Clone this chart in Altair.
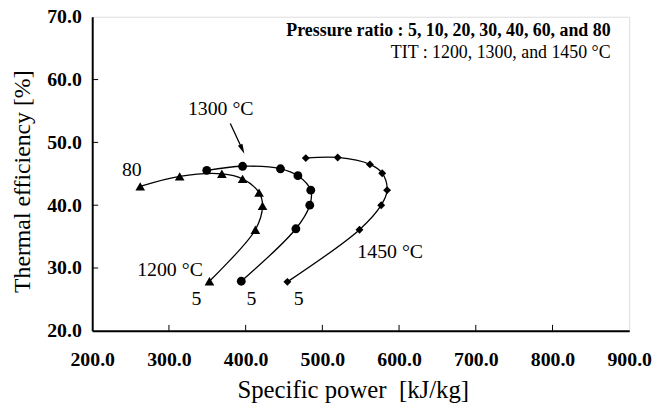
import altair as alt
import pandas as pd

# ---- data ----
x_1200 = [262.6, 314.0, 369.0, 396.0, 417.5, 422.0, 412.7, 352.8]
y_1200 = [43.0, 44.6, 45.0, 44.2, 42.0, 39.9, 36.1, 27.9]

x_1300 = [349.3, 396.0, 445.4, 468.1, 484.9, 483.6, 465.5, 394.3]
y_1300 = [45.55, 46.2, 45.8, 44.7, 42.4, 40.0, 36.25, 27.9]

x_1450 = [478.4, 520.0, 562.0, 578.0, 584.4, 576.7, 548.4, 454.4]
y_1450 = [47.5, 47.6, 46.5, 45.1, 42.4, 40.0, 36.1, 27.8]

x_ticks = [300, 400, 500, 600, 700, 800]
y_ticks = [30, 40, 50, 60]

ann_text = ["80", "1300 °C", "1200 °C", "1450 °C", "5", "5", "5"]
ann_x = [251.6, 367.5, 301.4, 588.4, 335.9, 407.7, 469.3]
ann_y = [44.6, 54.4, 28.8, 31.6, 24.1, 24.1, 24.1]

legend_text = ["Pressure ratio : 5, 10, 20, 30, 40, 60, and 80",
               "TIT : 1200, 1300, and 1450 °C"]
legend_x = [875.7, 875.7]
legend_y = [66.96, 63.42]

arrow_x = [380.0, 395.6]
arrow_y = [53.0, 48.9]

FONT = "Liberation Serif"
W, H = 542, 317

rows = []
for tit, xs_, ys_ in [("1200", x_1200, y_1200), ("1300", x_1300, y_1300), ("1450", x_1450, y_1450)]:
    for i, (a, b) in enumerate(zip(xs_, ys_)):
        rows.append({"tit": tit, "order": i, "sp": a, "eff": b})
df = pd.DataFrame(rows)

xs = alt.Scale(domain=[200, 900], nice=False, zero=False)
ys = alt.Scale(domain=[20, 70], nice=False, zero=False)

xaxis = alt.Axis(values=list(range(200, 901, 100)), format=".1f", title="Specific power\u00a0\u00a0[kJ/kg]",
                 grid=False, ticks=False, tickSize=0, labelFont=FONT, labelFontSize=20,
                 labelFontWeight="bold", labelColor="black", labelPadding=19, labelFlush=False,
                 labelOverlap=False,
                 domainColor="black", domainWidth=2,
                 titleFont=FONT, titleFontSize=25, titleFontWeight="normal", titleColor="black",
                 titleX=263, titleY=67, titleBaseline="alphabetic", titleAlign="center")
yaxis = alt.Axis(values=list(range(20, 71, 10)), format=".1f", title="Thermal efficiency [%]",
                 grid=False, ticks=False, tickSize=0, labelFont=FONT, labelFontSize=20,
                 labelFontWeight="bold", labelColor="black", labelPadding=11, labelFlush=False,
                 labelOverlap=False,
                 domainColor="black", domainWidth=2,
                 titleFont=FONT, titleFontSize=24, titleFontWeight="normal", titleColor="black",
                 titleX=-63, titleY=166, titleAngle=270, titleBaseline="alphabetic", titleAlign="center")

base = alt.Chart(df)
lines = base.mark_line(color="black", strokeWidth=1.3, interpolate="catmull-rom").encode(
    x=alt.X("sp:Q", scale=xs, axis=xaxis),
    y=alt.Y("eff:Q", scale=ys, axis=yaxis),
    detail="tit:N",
    order="order:Q",
)

shape_map = alt.Scale(domain=["1200", "1300", "1450"], range=["triangle-up", "circle", "diamond"])
size_map = alt.Scale(domain=["1200", "1300", "1450"], range=[95, 64, 100])
points = base.mark_point(filled=True, color="black", opacity=1).encode(
    x=alt.X("sp:Q", scale=xs),
    y=alt.Y("eff:Q", scale=ys),
    shape=alt.Shape("tit:N", scale=shape_map, legend=None),
    size=alt.Size("tit:N", scale=size_map, legend=None),
)

xt = alt.Chart(pd.DataFrame({"v": x_ticks})).mark_rule(color="black", strokeWidth=1).encode(
    x=alt.X("v:Q", scale=xs), y=alt.value(H), y2=alt.value(H - 6))
yt = alt.Chart(pd.DataFrame({"v": y_ticks})).mark_rule(color="black", strokeWidth=1).encode(
    y=alt.Y("v:Q", scale=ys), x=alt.value(0), x2=alt.value(6))

ann = alt.Chart(pd.DataFrame({"t": ann_text, "x": ann_x, "y": ann_y})).mark_text(
    font=FONT, fontSize=20, color="black", align="center", baseline="alphabetic").encode(
    x=alt.X("x:Q", scale=xs), y=alt.Y("y:Q", scale=ys), text="t:N")

leg_df = pd.DataFrame({"t": legend_text, "x": legend_x, "y": legend_y})
leg1 = alt.Chart(leg_df.iloc[[0]]).mark_text(
    font=FONT, fontSize=18, fontWeight="bold", color="black", align="right", baseline="alphabetic").encode(
    x=alt.X("x:Q", scale=xs), y=alt.Y("y:Q", scale=ys), text="t:N")
leg2 = alt.Chart(leg_df.iloc[[1]]).mark_text(
    font=FONT, fontSize=18, color="black", align="right", baseline="alphabetic").encode(
    x=alt.X("x:Q", scale=xs), y=alt.Y("y:Q", scale=ys), text="t:N")

arr_df = pd.DataFrame({"x": [arrow_x[0]], "y": [arrow_y[0]], "x2": [arrow_x[1]], "y2": [arrow_y[1]]})
arrow_line = alt.Chart(arr_df).mark_rule(color="black", strokeWidth=1.3).encode(
    x=alt.X("x:Q", scale=xs), y=alt.Y("y:Q", scale=ys), x2="x2:Q", y2="y2:Q")
arrow_head = alt.Chart(arr_df).mark_point(
    shape="M-0.5,-1L0.5,-1L0,1Z", filled=True, color="black", opacity=1, size=100, angle=335).encode(
    x=alt.X("x2:Q", scale=xs), y=alt.Y("y2:Q", scale=ys))

chart = alt.layer(lines, points, xt, yt, ann, leg1, leg2, arrow_line, arrow_head).properties(
    width=W, height=H,
    autosize=alt.AutoSizeParams(type="none"),
    padding={"left": 85, "top": 7, "right": 23, "bottom": 72},
).configure_view(stroke="black", strokeWidth=1.5).configure(background="white")

chart.save("out.html", embed_options={"renderer": "svg", "actions": False})
